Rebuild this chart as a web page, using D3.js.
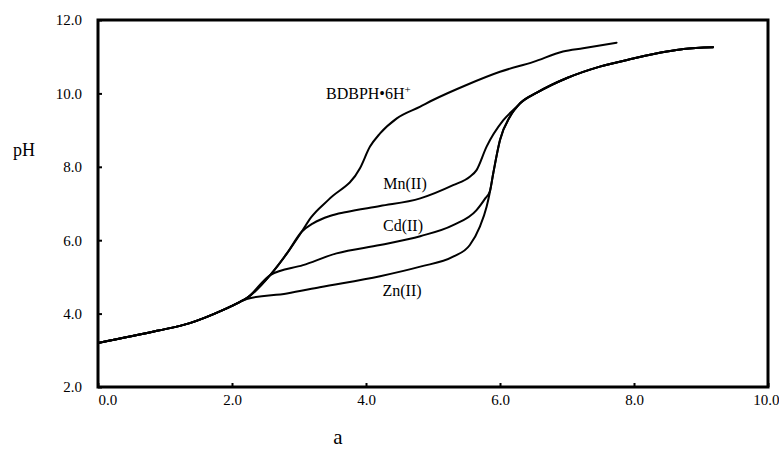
<!DOCTYPE html>
<html>
<head>
<meta charset="utf-8">
<script src="https://cdn.jsdelivr.net/npm/d3@7"></script>
<style>
  html, body { margin: 0; padding: 0; background: #fff; }
  svg text { font-family: "Liberation Serif", "Times New Roman", Times, serif; fill: #000; }
</style>
</head>
<body>
<svg id="chart" width="779" height="452"></svg>
<script>
// ---- data (volume of base added vs pH) ----
const xTicks = [0, 2, 4, 6, 8, 10];
const yTicks = [2, 4, 6, 8, 10, 12];
const xTickLabels = ["0.0", "2.0", "4.0", "6.0", "8.0", "10.0"];
const yTickLabels = ["2.0", "4.0", "6.0", "8.0", "10.0", "12.0"];

const bdbphX  = [0.0, 0.88, 1.37, 1.87, 2.12, 2.22, 2.57, 2.82, 3.04, 3.18, 3.45, 3.91, 4.06, 4.21, 4.46, 4.81, 5.00, 5.50, 6.00, 6.50, 6.94, 7.24, 7.74];
const bdbphPH = [3.2, 3.53, 3.74, 4.10, 4.32, 4.42, 5.05, 5.64, 6.23, 6.62, 7.12, 7.96, 8.55, 8.91, 9.32, 9.64, 9.82, 10.23, 10.59, 10.86, 11.14, 11.23, 11.38];

const mnX  = [0.0, 0.88, 1.37, 1.87, 2.12, 2.22, 2.57, 2.82, 3.04, 3.21, 3.46, 3.71, 4.21, 4.81, 5.30, 5.55, 5.65, 5.80, 6.05, 6.25, 6.30, 6.55, 7.00, 7.49, 7.99, 8.49, 8.74, 9.18];
const mnPH = [3.2, 3.53, 3.74, 4.10, 4.32, 4.42, 5.05, 5.64, 6.23, 6.46, 6.66, 6.77, 6.93, 7.14, 7.50, 7.73, 7.91, 8.55, 9.27, 9.64, 9.73, 10.02, 10.42, 10.73, 10.95, 11.14, 11.21, 11.26];

const cdX  = [0.0, 0.88, 1.37, 1.87, 2.12, 2.22, 2.57, 3.06, 3.56, 4.21, 4.81, 5.30, 5.65, 5.78, 5.85, 5.90, 6.00, 6.15, 6.30, 6.55, 7.00, 7.49, 7.99, 8.49, 8.74, 9.18];
const cdPH = [3.2, 3.53, 3.74, 4.10, 4.32, 4.42, 5.05, 5.32, 5.64, 5.87, 6.11, 6.41, 6.82, 7.14, 7.34, 7.83, 8.73, 9.37, 9.73, 10.02, 10.42, 10.73, 10.95, 11.14, 11.21, 11.26];

const znX  = [0.0, 0.88, 1.37, 1.87, 2.12, 2.22, 2.82, 3.31, 4.21, 4.81, 5.30, 5.55, 5.70, 5.80, 5.85, 5.90, 6.00, 6.15, 6.30, 6.55, 7.00, 7.49, 7.99, 8.49, 8.74, 9.18];
const znPH = [3.2, 3.53, 3.74, 4.10, 4.32, 4.40, 4.55, 4.72, 5.02, 5.28, 5.55, 5.87, 6.37, 6.91, 7.32, 7.83, 8.73, 9.37, 9.73, 10.02, 10.42, 10.73, 10.95, 11.14, 11.21, 11.26];

const seriesNames = ["BDBPH", "Mn(II)", "Cd(II)", "Zn(II)"];

// ---- layout ----
const FONT = '"Liberation Serif", "Times New Roman", Times, serif';
const svg = d3.select("#chart");
const mLeft = 98, mRight = 768, mTop = 20, mBottom = 387;

const x = d3.scaleLinear().domain([0, 10]).range([mLeft, mRight]);
const y = d3.scaleLinear().domain([2, 12]).range([mBottom, mTop]);

const series = [
  {name: seriesNames[0], xs: bdbphX, ys: bdbphPH},
  {name: seriesNames[1], xs: mnX, ys: mnPH},
  {name: seriesNames[2], xs: cdX, ys: cdPH},
  {name: seriesNames[3], xs: znX, ys: znPH}
];

const line = d3.line()
  .x(d => x(d[0]))
  .y(d => y(d[1]))
  .curve(d3.curveMonotoneX);

svg.append("g").selectAll("path")
  .data(series)
  .join("path")
  .attr("d", s => line(s.xs.map((v, i) => [v, s.ys[i]])))
  .attr("fill", "none")
  .attr("stroke", "#000")
  .attr("stroke-width", 2)
  .attr("stroke-linejoin", "round")
  .attr("stroke-linecap", "round");

// ---- axes ----
const yAxis = d3.axisLeft(y)
  .tickValues(yTicks)
  .tickFormat((d, i) => yTickLabels[i])
  .tickSizeInner(-4)
  .tickSizeOuter(0)
  .tickPadding(16);

const xAxis = d3.axisBottom(x)
  .tickValues(xTicks)
  .tickFormat((d, i) => xTickLabels[i])
  .tickSizeInner(-4)
  .tickSizeOuter(0)
  .tickPadding(7);

const gy = svg.append("g").attr("transform", `translate(${mLeft},0)`).call(yAxis);
const gx = svg.append("g").attr("transform", `translate(0,${mBottom})`).call(xAxis);

[gx, gy].forEach(g => {
  g.attr("font-family", FONT).attr("font-size", 15);
  g.select(".domain").remove();
  g.selectAll(".tick line").attr("stroke", "#000").attr("stroke-width", 2);
  g.selectAll(".tick text").attr("font-family", FONT).attr("font-size", 15).attr("fill", "#000");
});
gx.selectAll(".tick text")
  .attr("text-anchor", (d, i) => i === 0 ? "start" : (i === xTicks.length - 1 ? "end" : "middle"))
  .attr("dx", (d, i) => i === xTicks.length - 1 ? 11 : 0);

// frame
svg.append("rect")
  .attr("x", mLeft).attr("y", mTop)
  .attr("width", mRight - mLeft).attr("height", mBottom - mTop)
  .attr("fill", "none").attr("stroke", "#000").attr("stroke-width", 3);

// ---- labels ----
const lab = (sel) => sel.attr("font-family", FONT).attr("font-size", 16);
const bd = svg.append("text").attr("x", 326).attr("y", 99).call(lab);
bd.append("tspan").text("BDBPH\u20226H");
bd.append("tspan").attr("dy", -6).attr("font-size", 11).text("+");

svg.append("text").attr("x", 405).attr("y", 189).attr("text-anchor", "middle").call(lab).text(seriesNames[1]);
svg.append("text").attr("x", 403).attr("y", 231).attr("text-anchor", "middle").call(lab).text(seriesNames[2]);
svg.append("text").attr("x", 402).attr("y", 296).attr("text-anchor", "middle").call(lab).text(seriesNames[3]);

svg.append("text").attr("x", 24).attr("y", 156).attr("text-anchor", "middle").attr("font-family", FONT).attr("font-size", 18).text("pH");
svg.append("text").attr("x", 338).attr("y", 444).attr("text-anchor", "middle").attr("font-family", FONT).attr("font-size", 21).text("a");
</script>
</body>
</html>
